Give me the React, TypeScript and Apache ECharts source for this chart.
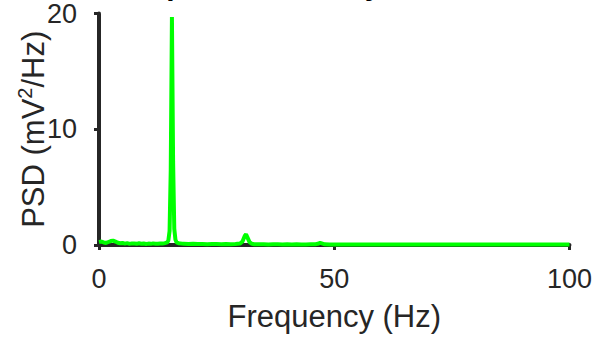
import React, { useEffect, useRef } from "react";
import * as echarts from "echarts";

const titleText = "Power Spectral Density";
const xAxisName = "Frequency (Hz)";
const yAxisName = "PSD (mV{sup|2}/Hz)";
const xTicks = [0, 50, 100];
const yTicks = [0, 10, 20];

const freqs = [
  0, 0.5, 1, 1.5, 2, 2.5, 3, 3.5, 4, 4.5, 5, 5.5, 6, 6.5, 7, 7.5, 8, 8.5, 9, 9.5,
  10, 10.5, 11, 11.5, 12, 12.5, 13, 13.5, 14, 14.5, 14.75, 15, 15.25, 15.5, 15.75,
  16, 16.25, 16.5, 17, 17.5, 18, 19, 20, 21, 22, 23, 24, 25, 26, 27, 28, 29, 30,
  30.5, 31, 31.25, 31.5, 32, 32.5, 33, 34, 35, 36, 37, 38, 39, 40, 41, 42, 43, 44,
  45, 46, 46.5, 47, 47.5, 48, 49, 52, 55, 58, 61, 64, 67, 70, 73, 76, 79, 82, 85,
  88, 91, 94, 97, 100,
];
const psd = [
  0.25, 0.3, 0.22, 0.18, 0.26, 0.34, 0.38, 0.3, 0.2, 0.15, 0.18, 0.12, 0.16, 0.1,
  0.14, 0.12, 0.1, 0.15, 0.11, 0.13, 0.09, 0.12, 0.1, 0.14, 0.11, 0.1, 0.13, 0.12,
  0.16, 0.22, 0.4, 1.2, 6.5, 19.7, 7.2, 1.4, 0.45, 0.22, 0.14, 0.12, 0.11, 0.09,
  0.1, 0.08, 0.09, 0.07, 0.08, 0.08, 0.07, 0.09, 0.07, 0.08, 0.12, 0.3, 0.8, 0.92,
  0.7, 0.25, 0.1, 0.07, 0.06, 0.07, 0.05, 0.06, 0.06, 0.05, 0.06, 0.05, 0.06, 0.05,
  0.05, 0.06, 0.07, 0.1, 0.18, 0.12, 0.06, 0.05, 0.05, 0.04, 0.05, 0.04, 0.04, 0.05,
  0.04, 0.04, 0.05, 0.04, 0.04, 0.04, 0.05, 0.04, 0.04, 0.04, 0.04,
];

const FONT = "'Liberation Sans', Arial, Helvetica, sans-serif";
const INK = "#262626";

export default function App() {
  const ref = useRef<HTMLDivElement>(null);
  useEffect(() => {
    if (!ref.current) return;
    const chart = echarts.init(ref.current, undefined, { renderer: "svg" });
    const data = freqs.map((f, i) => [f, psd[i]]);
    chart.setOption({
      animation: false,
      backgroundColor: "#ffffff",
      graphic: [
        {
          type: "text",
          x: 48,
          y: -16,
          z: 0,
          style: {
            text: titleText,
            fill: "#000000",
            font: `bold 30px ${FONT}`,
            verticalAlign: "middle",
            align: "left",
          },
        },
      ],
      grid: { left: 99, right: 25, top: 9.5, bottom: 94 },
      xAxis: {
        type: "value",
        min: xTicks[0],
        max: xTicks[xTicks.length - 1],
        interval: 50,
        name: xAxisName,
        nameLocation: "middle",
        nameGap: 56,
        nameMoveOverlap: false,
        nameTextStyle: { fontSize: 31, color: INK, fontFamily: FONT },
        axisLine: { show: true, lineStyle: { color: INK, width: 4 } },
        axisTick: { show: true, length: 5, lineStyle: { color: INK, width: 3 } },
        axisLabel: { fontSize: 27, color: INK, fontFamily: FONT, margin: 20 },
        splitLine: { show: false },
      },
      yAxis: {
        type: "value",
        min: yTicks[0],
        max: yTicks[yTicks.length - 1],
        interval: 10,
        name: yAxisName,
        nameLocation: "middle",
        nameRotate: 90,
        nameGap: 48,
        nameMoveOverlap: false,
        nameTextStyle: {
          fontSize: 31,
          color: INK,
          fontFamily: FONT,
          lineHeight: 36,
          rich: {
            sup: {
              fontSize: 20,
              color: INK,
              fontFamily: FONT,
              verticalAlign: "top",
              lineHeight: 36,
              padding: [0, 0, 12, 0],
            },
          },
        },
        axisLine: { show: true, lineStyle: { color: INK, width: 4 } },
        axisTick: { show: true, length: 5, lineStyle: { color: INK, width: 3 } },
        axisLabel: { fontSize: 27, color: INK, fontFamily: FONT, margin: 22 },
        splitLine: { show: false },
      },
      series: [
        {
          type: "line",
          data,
          showSymbol: false,
          symbol: "none",
          lineStyle: { color: "#00ff00", width: 4 },
          itemStyle: { color: "#00ff00" },
          z: 5,
        },
      ],
    });
    return () => chart.dispose();
  }, []);
  return (
    <div
      ref={ref}
      style={{ position: "fixed", left: 0, top: 0, width: 595, height: 339, background: "#fff" }}
    />
  );
}
